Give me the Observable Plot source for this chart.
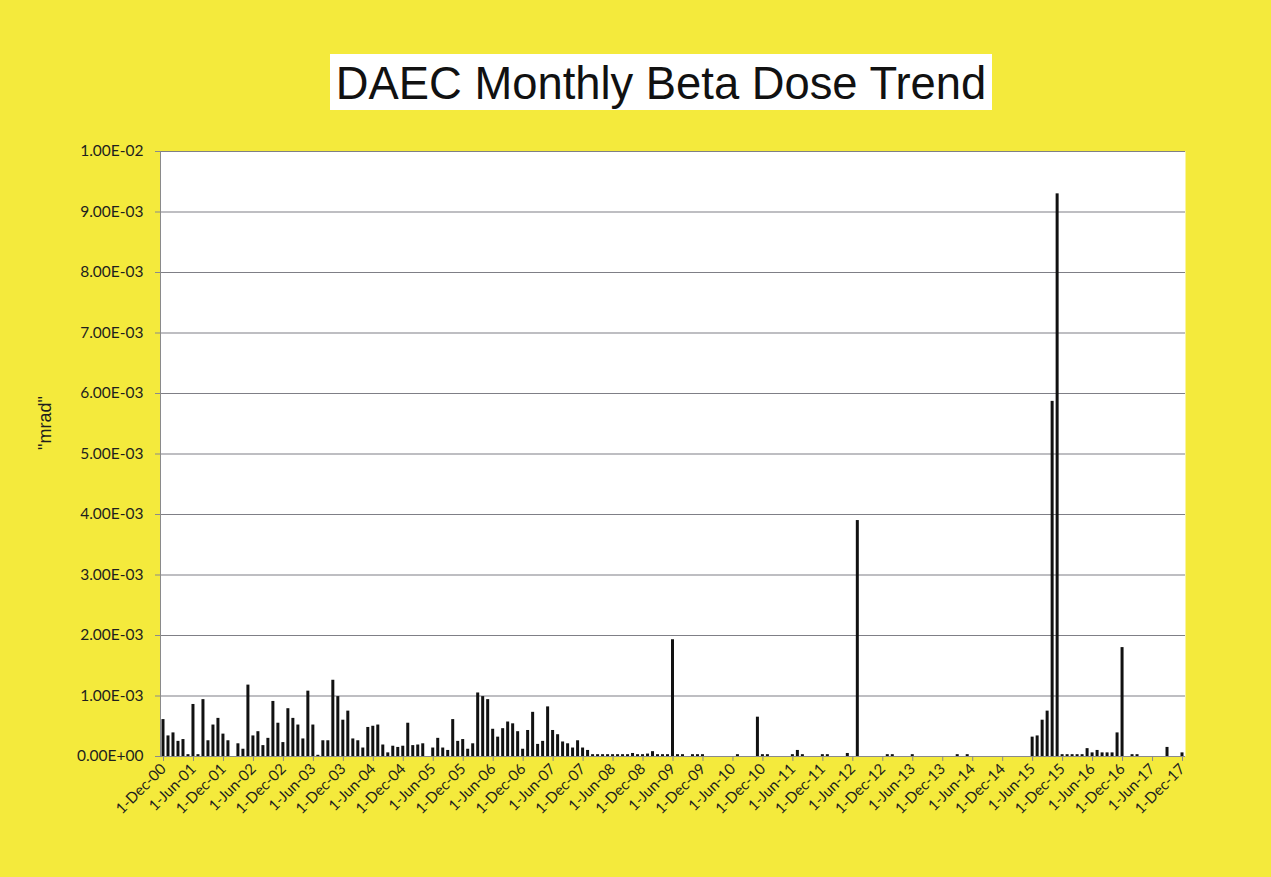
<!DOCTYPE html>
<html>
<head>
<meta charset="utf-8">
<script src="https://cdn.jsdelivr.net/npm/d3@7"></script>
<script src="https://cdn.jsdelivr.net/npm/@observablehq/plot@0.6"></script>
<style>
  html, body { margin: 0; padding: 0; background: #f4ea3c; }
  #wrap { position: relative; width: 1271px; height: 877px; background: #f4ea3c; overflow: hidden; }
  #title { position: absolute; left: 330px; top: 54px; width: 662px; height: 56px; background: #ffffff;
           font-family: "Liberation Sans", Arial, sans-serif; font-size: 47px; color: #111;
           display: flex; align-items: center; justify-content: center; white-space: nowrap; }
  #title span { display: inline-block; transform: scaleX(0.965); }
  #chart { position: absolute; left: 0; top: 0; }
</style>
</head>
<body>
<div id="wrap">
  <div id="chart"></div>
  <div id="title"><span>DAEC Monthly Beta Dose Trend</span></div>
</div>
<script>
// Monthly beta dose, in units of 1E-03 mrad, one value per month starting 1-Dec-00
const startMonth = [2000, 11]; // December 2000
const doseE3 = [
  // Dec-00 .. Nov-01
  0.61, 0.34, 0.39, 0.25, 0.28, 0.03, 0.86, 0.03, 0.94, 0.26, 0.52, 0.63,
  // Dec-01 .. Nov-02
  0.37, 0.26, 0, 0.21, 0.12, 1.18, 0.34, 0.41, 0.18, 0.30, 0.91, 0.55,
  // Dec-02 .. Nov-03
  0.23, 0.79, 0.63, 0.52, 0.29, 1.08, 0.52, 0.02, 0.26, 0.26, 1.26, 0.99,
  // Dec-03 .. Nov-04
  0.60, 0.75, 0.29, 0.26, 0.14, 0.48, 0.50, 0.52, 0.19, 0.06, 0.17, 0.15,
  // Dec-04 .. Nov-05
  0.17, 0.55, 0.18, 0.19, 0.21, 0, 0.14, 0.30, 0.14, 0.10, 0.61, 0.25,
  // Dec-05 .. Nov-06
  0.28, 0.12, 0.21, 1.05, 0.99, 0.94, 0.45, 0.32, 0.46, 0.57, 0.54, 0.41,
  // Dec-06 .. Nov-07
  0.12, 0.43, 0.73, 0.20, 0.25, 0.82, 0.43, 0.36, 0.24, 0.21, 0.14, 0.26,
  // Dec-07 .. Nov-08
  0.14, 0.10, 0.03, 0.03, 0.03, 0.03, 0.03, 0.03, 0.03, 0.03, 0.05, 0.03,
  // Dec-08 .. Nov-09
  0.03, 0.04, 0.08, 0.03, 0.03, 0.03, 1.93, 0.03, 0.03, 0, 0.03, 0.03,
  // Dec-09 .. Nov-10
  0.03, 0, 0, 0, 0, 0, 0, 0.03, 0, 0, 0, 0.65,
  // Dec-10 .. Nov-11
  0.03, 0.03, 0, 0, 0, 0, 0.03, 0.10, 0.03, 0, 0, 0,
  // Dec-11 .. Nov-12
  0.03, 0.03, 0, 0, 0, 0.05, 0, 3.90, 0, 0, 0, 0,
  // Dec-12 .. Nov-13
  0, 0.03, 0.03, 0, 0, 0, 0.03, 0, 0, 0, 0, 0,
  // Dec-13 .. Nov-14
  0, 0, 0, 0.03, 0, 0.03, 0, 0, 0, 0, 0, 0,
  // Dec-14 .. Nov-15
  0, 0, 0, 0, 0, 0, 0.32, 0.34, 0.60, 0.75, 5.87, 9.30,
  // Dec-15 .. Nov-16
  0.03, 0.03, 0.03, 0.03, 0.03, 0.13, 0.06, 0.10, 0.06, 0.06, 0.06, 0.39,
  // Dec-16 .. Nov-17
  1.80, 0, 0.03, 0.03, 0, 0, 0, 0, 0, 0.15, 0, 0,
  // Dec-17
  0.06
];
const yTicks = [0, 0.001, 0.002, 0.003, 0.004, 0.005, 0.006, 0.007, 0.008, 0.009, 0.01];
const yLabel = "\"mrad\"";
const tickEveryMonths = 6;

const start = new Date(Date.UTC(startMonth[0], startMonth[1], 1));
const data = doseE3.map((v, i) => ({i, date: d3.utcMonth.offset(start, i), dose: v * 1e-3}));
const fmtDate = d3.utcFormat("%-d-%b-%y");
const xTicks = d3.range(0, doseE3.length, tickEveryMonths);

function fmtExp(v) {
  if (v === 0) return "0.00E+00";
  const e = Math.floor(Math.log10(Math.abs(v)) + 1e-9);
  const m = v / Math.pow(10, e);
  const sign = e < 0 ? "-" : "+";
  return m.toFixed(2) + "E" + sign + String(Math.abs(e)).padStart(2, "0");
}

const chart = Plot.plot({
  width: 1271,
  height: 877,
  marginLeft: 160,
  marginRight: 86,
  marginTop: 151,
  marginBottom: 121,
  style: {background: "transparent", fontFamily: "Lato, 'Open Sans', sans-serif", fontSize: "15px", color: "#1e1e1e"},
  x: {type: "band", domain: d3.range(doseE3.length), paddingInner: 0.4, paddingOuter: 0.3},
  y: {domain: [0, 0.01]},
  marks: [
    Plot.frame({fill: "white", stroke: null}),
    Plot.gridY(yTicks, {stroke: "#7f7f86", strokeOpacity: 1, strokeWidth: 1.2}),
    Plot.rectY(data, {x: "i", y: "dose", fill: "#111"}),
    Plot.frame({anchor: "left", stroke: "#8a8a8a"}),
    Plot.axisY({ticks: yTicks, tickFormat: fmtExp, tickSize: 5, tickPadding: 12, stroke: "#8a8a8a",
                label: null, fontSize: 15.5}),
    Plot.text([yLabel], {frameAnchor: "left", dx: -115, dy: -31, rotate: -90, textAnchor: "middle",
                         lineAnchor: "middle", fontSize: 18, fontFamily: "'Liberation Sans', Arial, sans-serif",
                         fill: "#1e1e1e"}),
    Plot.axisX({ticks: xTicks, tickFormat: i => fmtDate(data[i].date), tickSize: 5, tickRotate: -45,
                tickPadding: 5, stroke: "#8a8a8a", label: null, fontSize: 15}),
    Plot.ruleY([0], {stroke: "#8a8a8a"})
  ]
});
document.getElementById("chart").appendChild(chart);
</script>
</body>
</html>
